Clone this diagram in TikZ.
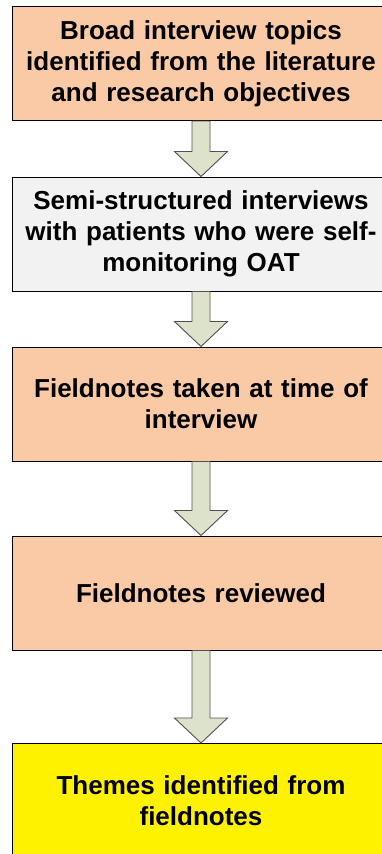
\documentclass[tikz,border=0pt]{standalone}
\usepackage{fontspec}
\setmainfont{Liberation Sans}
\usetikzlibrary{calc}
\definecolor{peach}{HTML}{FAC9A6}
\definecolor{paleg}{HTML}{F2F2F2}
\definecolor{arrowfill}{HTML}{DDE3CB}
\definecolor{arrowline}{HTML}{505050}
\tikzset{
  stepbox/.style={draw=black, line width=1pt, rectangle, minimum width=378pt, minimum height=114pt,
    text width=370pt, align=center, inner sep=0pt, font=\fontsize{26}{31}\selectfont\bfseries},
  fatarrow/.style={fill=arrowfill, draw=arrowline, line width=0.9pt, line join=miter}
}
\newcommand\fatarrowdraw[2]{%
  \draw[fatarrow] let \p1=(#1.south), \p2=(#2.north) in
    (\x1-9pt,\y1) -- (\x1-9pt,\y2+25pt) -- (\x1-26.5pt,\y2+25pt) -- (\x1,\y2)
    -- (\x1+26.5pt,\y2+25pt) -- (\x1+9pt,\y2+25pt) -- (\x1+9pt,\y1) -- cycle;}
\begin{document}
\begin{tikzpicture}[x=1pt,y=1pt]
\useasboundingbox (0,0) rectangle (382,-854);
\clip (0,0) rectangle (382,-854);
\fill[white] (0,0) rectangle (382,-854);
\node[stepbox, fill=peach] (b1) at (201,-63.5) {Broad interview topics\\identified from the literature\\and research objectives};
\node[stepbox, fill=paleg] (b2) at (201,-234) {Semi-structured interviews\\with patients who were self-\\monitoring OAT};
\node[stepbox, fill=peach] (b3) at (201,-404) {Fieldnotes taken at time of\\interview};
\node[stepbox, fill=peach] (b4) at (201,-593) {Fieldnotes reviewed};
\node[stepbox, fill=yellow] (b5) at (201,-800.5) {Themes identified from\\fieldnotes};
\fatarrowdraw{b1}{b2}
\fatarrowdraw{b2}{b3}
\fatarrowdraw{b3}{b4}
\fatarrowdraw{b4}{b5}
\end{tikzpicture}
\end{document}
